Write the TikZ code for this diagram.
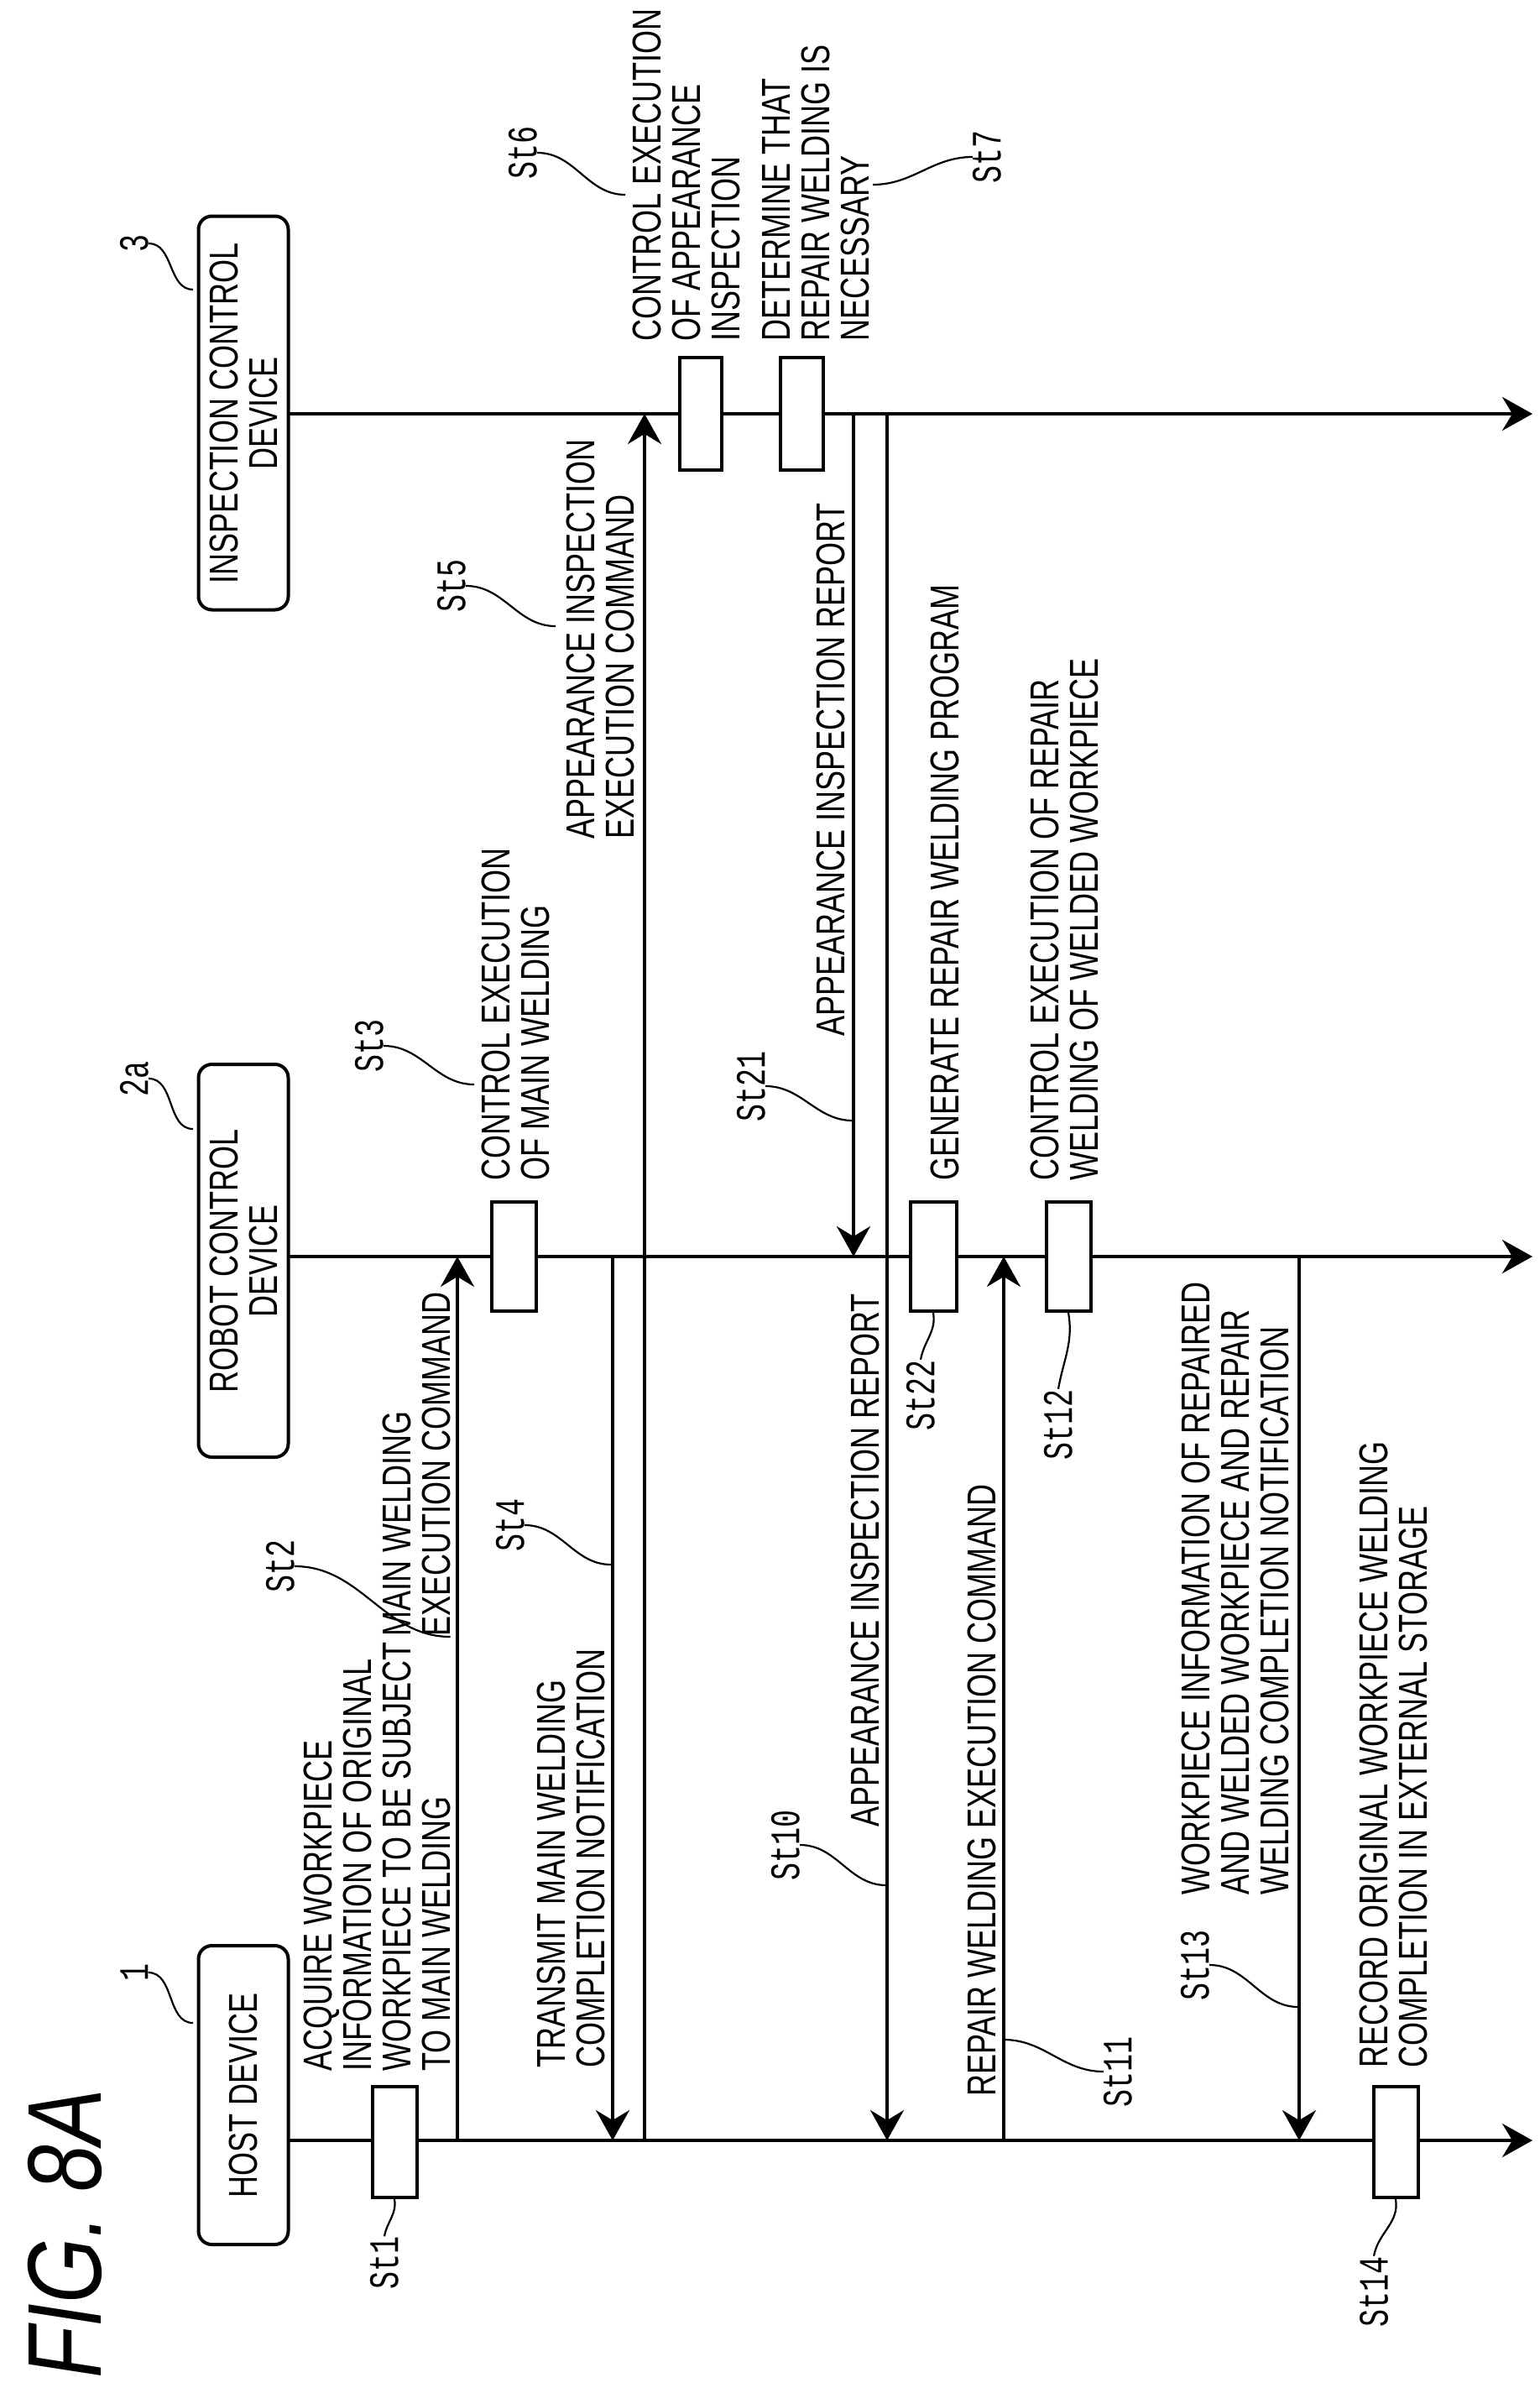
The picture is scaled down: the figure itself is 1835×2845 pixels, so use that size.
\documentclass[tikz,border=0pt]{standalone}
\usepackage{fontspec}
\setmainfont{Liberation Sans}[FakeStretch=0.75]
\newfontfamily\stmono{Liberation Mono}[FakeStretch=0.7]
\newfontfamily\figfont{Liberation Sans}[FakeStretch=0.8]
\usetikzlibrary{arrows.meta}
\begin{document}
\begin{tikzpicture}[x=1pt,y=-1pt,
  txt/.style={rotate=90,anchor=west,align=left,inner sep=0pt,font=\fontsize{48}{47}\selectfont},
  hd/.style={draw,line width=4pt,rounded corners=16pt,rotate=90,align=center,inner sep=0pt,font=\fontsize{48}{47}\selectfont},
  act/.style={draw,line width=4pt,fill=white,minimum width=53pt,minimum height=132pt,inner sep=0pt},
  st/.style={rotate=90,inner sep=0pt,font=\stmono\fontsize{50}{50}\selectfont},
  life/.style={line width=4pt,-{Stealth[length=36pt,width=40pt,inset=12pt]}},
  msg/.style={line width=4pt,-{Stealth[length=36pt,width=40pt,inset=12pt]}},
  lead/.style={line width=2.2pt}]
\useasboundingbox (0,0) rectangle (1835,2845);
% header boxes
\node[hd,minimum width=356pt,minimum height=107pt] (host) at (290,2496) {HOST DEVICE};
\node[hd,minimum width=468pt,minimum height=107pt] (robot) at (290,1502) {ROBOT CONTROL\\DEVICE};
\node[hd,minimum width=469pt,minimum height=107pt] (insp) at (290,492) {INSPECTION CONTROL\\DEVICE};
% lifelines
\coordinate (hL) at (343,2550); \coordinate (hR) at (1826,2550);
\coordinate (rL) at (343,1497); \coordinate (rR) at (1826,1497);
\coordinate (iL) at (343,493);  \coordinate (iR) at (1826,493);
\draw[life] (hL) -- (hR);
\draw[life] (rL) -- (rR);
\draw[life] (iL) -- (iR);
% messages
\coordinate (m2a) at (545,2550); \coordinate (m2b) at (545,1497);
\coordinate (m4a) at (730,1497); \coordinate (m4b) at (730,2550);
\coordinate (m5a) at (768,2550); \coordinate (m5b) at (768,493);
\coordinate (m21a) at (1017,493); \coordinate (m21b) at (1017,1497);
\coordinate (m10a) at (1057,493); \coordinate (m10b) at (1057,2550);
\coordinate (m11a) at (1196,2550); \coordinate (m11b) at (1196,1497);
\coordinate (m13a) at (1548,1497); \coordinate (m13b) at (1548,2550);
\draw[msg] (m2a) -- (m2b);
\draw[msg] (m4a) -- (m4b);
\draw[msg] (m5a) -- (m5b);
\draw[msg] (m21a) -- (m21b);
\draw[msg] (m10a) -- (m10b);
\draw[msg] (m11a) -- (m11b);
\draw[msg] (m13a) -- (m13b);
% activation boxes
\node[act] (s1) at (470,2552) {};
\node[act] (s14) at (1663,2552) {};
\node[act,minimum height=130pt] (s3) at (612,1497) {};
\node[act,minimum height=130pt,minimum width=55pt] (s22) at (1112,1497) {};
\node[act,minimum height=130pt] (s12) at (1273,1497) {};
\node[act,minimum height=134pt,minimum width=50pt] (s6) at (835,493) {};
\node[act,minimum height=134pt,minimum width=51pt] (s7) at (955,493) {};
% texts
\node[txt] (t1) at (449,2468) {ACQUIRE WORKPIECE\\INFORMATION OF ORIGINAL\\WORKPIECE TO BE SUBJECT\\TO MAIN WELDING};
\node[txt] (t2) at (496,1950) {MAIN WELDING\\EXECUTION COMMAND};
\node[txt] (t3) at (614,1407) {CONTROL EXECUTION\\OF MAIN WELDING};
\node[txt] (t4) at (680,2464) {TRANSMIT MAIN WELDING\\COMPLETION NOTIFICATION};
\node[txt] (t5) at (715,1000) {APPEARANCE INSPECTION\\EXECUTION COMMAND};
\node[txt] (t6) at (818,407) {CONTROL EXECUTION\\OF APPEARANCE\\INSPECTION};
\node[txt] (t7) at (972,407) {DETERMINE THAT\\REPAIR WELDING IS\\NECESSARY};
\node[txt] (t21) at (990,1235) {APPEARANCE INSPECTION REPORT};
\node[txt] (t10) at (1031,2177) {APPEARANCE INSPECTION REPORT};
\node[txt] (t22) at (1126,1407) {GENERATE REPAIR WELDING PROGRAM};
\node[txt] (t11) at (1170,2498) {REPAIR WELDING EXECUTION COMMAND};
\node[txt] (t12) at (1268,1407) {CONTROL EXECUTION OF REPAIR\\WELDING OF WELDED WORKPIECE};
\node[txt] (t13) at (1472,2258) {WORKPIECE INFORMATION OF REPAIRED\\AND WELDED WORKPIECE AND REPAIR\\WELDING COMPLETION NOTIFICATION};
\node[txt] (t14) at (1660,2464) {RECORD ORIGINAL WORKPIECE WELDING\\COMPLETION IN EXTERNAL STORAGE};
% reference labels
\node[st] (l1) at (160,2350) {1};
\node[st] (l2a) at (160,1285) {2a};
\node[st] (l3) at (160,290) {3};
\node[st] (lS1) at (458,2696) {St1};
\node[st] (lS2) at (334,1866) {St2};
\node[st] (lS3) at (440,1246) {St3};
\node[st] (lS4) at (608,1817) {St4};
\node[st] (lS5) at (538,698) {St5};
\node[st] (lS6) at (623,182) {St6};
\node[st] (lS7) at (1176,187) {St7};
\node[st] (lS21) at (895,1294) {St21};
\node[st] (lS10) at (936,2198) {St10};
\node[st] (lS22) at (1097,1662) {St22};
\node[st] (lS12) at (1261,1697) {St12};
\node[st] (lS11) at (1332,2468) {St11};
\node[st] (lS13) at (1424,2341) {St13};
\node[st] (lS14) at (1637,2730) {St14};
\node[rotate=90,inner sep=0pt,font=\figfont\itshape\fontsize{125}{125}\selectfont] (fig) at (77,2661) {FIG. 8A};
% leaders
\coordinate (e1) at (230,2410); \coordinate (e2a) at (230,1345); \coordinate (e3) at (230,345);
\draw[lead] (l1.south) to[out=0,in=180] (e1);
\draw[lead] (l2a.south) to[out=0,in=180] (e2a);
\draw[lead] (l3.south) to[out=0,in=180] (e3);
\draw[lead] (s1.south) to[out=-80,in=80] (lS1.east);
\draw[lead] (lS2.south) to[out=0,in=180] (t2.south west);
\coordinate (e3b) at (565,1292);
\draw[lead] (lS3.south) to[out=0,in=180] (e3b);
\coordinate (e4) at (728,1864);
\draw[lead] (lS4.south) to[out=0,in=180] (e4);
\coordinate (e5) at (662,746);
\draw[lead] (lS5.south) to[out=0,in=180] (e5);
\coordinate (e6) at (745,232);
\draw[lead] (lS6.south) to[out=0,in=180] (e6);
\coordinate (e7) at (1040,220);
\draw[lead] (lS7.north) to[out=180,in=0] (e7);
\coordinate (e21) at (1016,1335);
\draw[lead] (lS21.south) to[out=0,in=180] (e21);
\coordinate (e10) at (1056,2246);
\draw[lead] (lS10.south) to[out=0,in=180] (e10);
\draw[lead] (lS22.east) to[out=80,in=-80] (s22.south);
\draw[lead] (lS12.east) to[out=80,in=-80] (s12.south);
\coordinate (e11) at (1196,2430);
\draw[lead] (lS11.north) to[out=180,in=0] (e11);
\coordinate (e13) at (1547,2391);
\draw[lead] (lS13.south) to[out=0,in=180] (e13);
\draw[lead] (lS14.east) to[out=80,in=-80] (s14.south);
\end{tikzpicture}
\end{document}
